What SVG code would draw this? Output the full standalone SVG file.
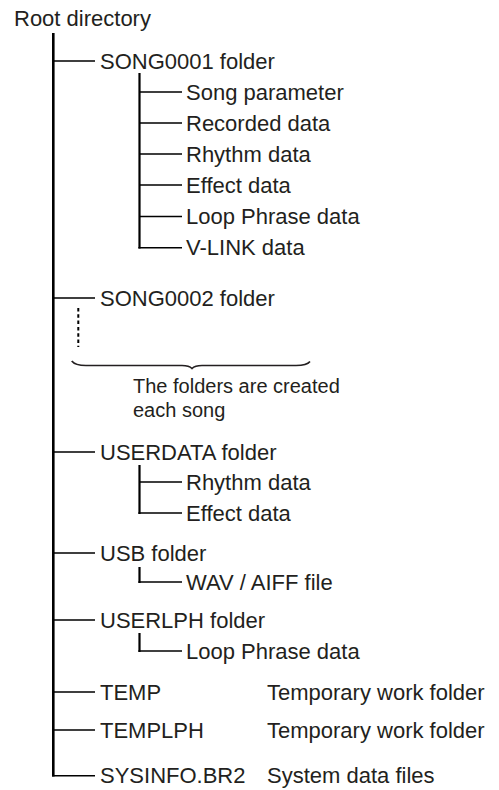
<svg xmlns="http://www.w3.org/2000/svg" width="499" height="790" viewBox="0 0 499 790">
<style>
text{font-family:"Liberation Sans",Arial,Helvetica,sans-serif;font-size:22px;fill:#231f20}
.note{font-size:20px}
.trunk{stroke:#000;stroke-width:2.6;fill:none}
.sub{stroke:#000;stroke-width:2.2;fill:none}
.br{stroke:#000;stroke-width:1.6;fill:none}
.dot{stroke:#000;stroke-width:2;stroke-dasharray:3.5 2.8;fill:none}
.brace{stroke:#231f20;stroke-width:1.6;fill:none}
</style>
<rect width="499" height="790" fill="#fff"/>
<g id="connectors">
<path class="trunk" d="M53.3 33V776.5"/>
<path class="br" d="M53.3 61H95M53.3 298H95M53.3 452H95M53.3 553H95M53.3 620H95M53.3 692H95M53.3 730H95M52 775.7H95"/>
<path class="sub" d="M139.5 73V248.5"/>
<path class="br" d="M139.5 92H182M139.5 123H182M139.5 154H182M139.5 185H182M139.5 216.5H182M138.4 247.7H182"/>
<path class="sub" d="M139.5 465V514"/>
<path class="br" d="M139.5 482H182M138.4 513H182"/>
<path class="sub" d="M139.5 567V583"/>
<path class="br" d="M138.4 582H182"/>
<path class="sub" d="M139.5 633V652"/>
<path class="br" d="M138.4 651H182"/>
<path class="dot" d="M78.3 308V347"/>
<path class="brace" d="M71.7 361C74 364 78 365.5 86 365.5H182C187 365.5 190 366.5 192 368.5C194 366.5 197 365.5 202 365.5H296C304 365.5 308 364 310 361.5"/>
</g>
<g id="root"><text x="14" y="25.5">Root directory</text></g>
<g id="song0001"><text x="100" y="68.7">SONG0001 folder</text></g>
<g id="song0001-param"><text x="186" y="99.7">Song parameter</text></g>
<g id="song0001-recorded"><text x="186" y="130.7">Recorded data</text></g>
<g id="song0001-rhythm"><text x="186" y="161.7">Rhythm data</text></g>
<g id="song0001-effect"><text x="186" y="192.7">Effect data</text></g>
<g id="song0001-loop"><text x="186" y="224.2">Loop Phrase data</text></g>
<g id="song0001-vlink"><text x="186" y="255.4">V-LINK data</text></g>
<g id="song0002"><text x="100" y="305.7">SONG0002 folder</text></g>
<g id="note"><text class="note" x="133" y="393.3">The folders are created</text><text class="note" x="133" y="416.7">each song</text></g>
<g id="userdata"><text x="100" y="459.7">USERDATA folder</text></g>
<g id="userdata-rhythm"><text x="186" y="489.7">Rhythm data</text></g>
<g id="userdata-effect"><text x="186" y="520.7">Effect data</text></g>
<g id="usb"><text x="100" y="560.7">USB folder</text></g>
<g id="usb-wav"><text x="186" y="589.7">WAV / AIFF file</text></g>
<g id="userlph"><text x="100" y="627.7">USERLPH folder</text></g>
<g id="userlph-loop"><text x="186" y="658.7">Loop Phrase data</text></g>
<g id="temp"><text x="100" y="699.7">TEMP</text><text x="267" y="699.7">Temporary work folder</text></g>
<g id="templph"><text x="100" y="737.7">TEMPLPH</text><text x="267" y="737.7">Temporary work folder</text></g>
<g id="sysinfo"><text x="100" y="783.4">SYSINFO.BR2</text><text x="267" y="783.4">System data files</text></g>
</svg>
